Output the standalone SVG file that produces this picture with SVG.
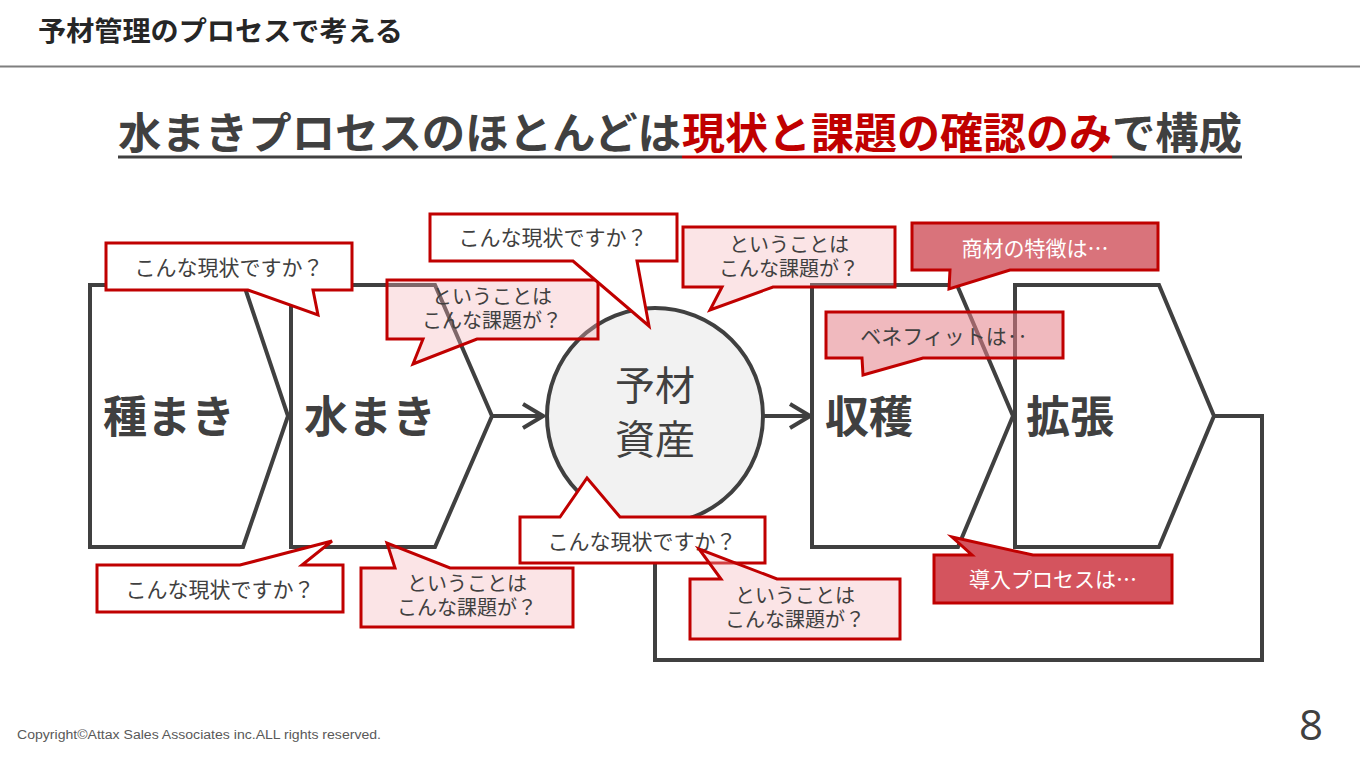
<svg xmlns="http://www.w3.org/2000/svg" width="1360" height="766" viewBox="0 0 1360 766">
<defs>
<style>
.jp{font-family:"Noto Sans CJK JP","Noto Sans",sans-serif}
.chev{fill:#fff;stroke:#404040;stroke-width:4;stroke-linejoin:miter}
.lbl{font-size:44px;font-weight:bold;fill:#404040}
.conn{fill:none;stroke:#404040;stroke-width:4}
.cw{fill:#fff;stroke:#c00000;stroke-width:3;stroke-linejoin:miter}
.cp{fill:#f4b2b8;fill-opacity:.35;stroke:#c00000;stroke-width:3;stroke-linejoin:miter}
.cm{fill:#e37f88;fill-opacity:.55;stroke:#c00000;stroke-width:3;stroke-linejoin:miter}
.ce{fill:#d9737b;stroke:#c00000;stroke-width:3;stroke-linejoin:miter}
.ck{fill:#d4545e;stroke:#c00000;stroke-width:3;stroke-linejoin:miter}
.ct{font-size:21px;fill:#404040;text-anchor:middle}
.ct2{font-size:20px;fill:#404040;text-anchor:middle}
.ctw{font-size:21px;fill:#fff;text-anchor:middle}
</style>
<marker id="arr" viewBox="0 0 24 28" refX="22" refY="14" markerWidth="24" markerHeight="28" markerUnits="userSpaceOnUse" orient="auto">
<path d="M2,2 L22,14 L2,26" fill="none" stroke="#404040" stroke-width="4"/>
</marker>
</defs>
<rect width="1360" height="766" fill="#fff"/>

<g id="header">
<text class="jp" x="38" y="41" font-size="27" font-weight="bold" fill="#262626" textLength="365" lengthAdjust="spacingAndGlyphs">予材管理のプロセスで考える</text>
<line x1="0" y1="66.5" x2="1360" y2="66.5" stroke="#7f7f7f" stroke-width="2"/>
</g>

<g id="headline">
<text class="jp" x="118" y="149" font-size="43" font-weight="bold" fill="#404040" textLength="563" lengthAdjust="spacingAndGlyphs">水まきプロセスのほとんどは</text>
<text class="jp" x="682" y="149" font-size="43" font-weight="bold" fill="#c00000" textLength="430" lengthAdjust="spacingAndGlyphs">現状と課題の確認のみ</text>
<text class="jp" x="1112" y="149" font-size="43" font-weight="bold" fill="#404040" textLength="130" lengthAdjust="spacingAndGlyphs">で構成</text>
<line x1="118" y1="157" x2="682" y2="157" stroke="#404040" stroke-width="3"/>
<line x1="682" y1="157" x2="1112" y2="157" stroke="#c00000" stroke-width="3"/>
<line x1="1112" y1="157" x2="1242" y2="157" stroke="#404040" stroke-width="3"/>
</g>

<g id="connectors">
<line class="conn" x1="492" y1="416" x2="543" y2="416" marker-end="url(#arr)"/>
<line class="conn" x1="764" y1="416" x2="810" y2="416" marker-end="url(#arr)"/>
<polyline class="conn" points="1214,416 1262,416 1262,660 655,660 655,524"/>
</g>

<g id="node-tanemaki">
<polygon class="chev" points="90,285 244,285 288,416 243,547 90,547"/>
<text class="jp lbl" x="103" y="433">種まき</text>
</g>
<g id="node-mizumaki">
<polygon class="chev" points="291,285 435,285 492,416 435,547 291,547"/>
<text class="jp lbl" x="304" y="433">水まき</text>
</g>
<g id="node-yozai">
<circle cx="655" cy="416" r="108" fill="#f2f2f2" stroke="#404040" stroke-width="4"/>
<text class="jp" font-size="40" fill="#404040" text-anchor="middle"><tspan x="655" y="400">予材</tspan><tspan x="655" y="454">資産</tspan></text>
</g>
<g id="node-shukaku">
<polygon class="chev" points="812,285 957,285 1013,416 958,547 812,547"/>
<text class="jp lbl" x="825" y="433">収穫</text>
</g>
<g id="node-kakucho">
<polygon class="chev" points="1015,285 1159,285 1214,416 1159,547 1015,547"/>
<text class="jp lbl" x="1026" y="433">拡張</text>
</g>

<g id="callout-a">
<polygon class="cw" points="106,243 352,243 352,290 313,290 318,315 248,290 106,290"/>
<text class="jp ct" x="229" y="275">こんな現状ですか？</text>
</g>
<g id="callout-c">
<polygon class="cp" points="387,280 598,280 598,339 477,339 413,364 423,339 387,339"/>
<text class="jp ct2"><tspan x="492" y="304">ということは</tspan><tspan x="492" y="328">こんな課題が？</tspan></text>
</g>
<g id="callout-b">
<polygon class="cw" points="430,214 677,214 677,261 637,261 649,326 573,261 430,261"/>
<text class="jp ct" x="553" y="245">こんな現状ですか？</text>
</g>
<g id="callout-d">
<polygon class="cp" points="683,227 895,227 895,287 773,287 710,310 722,287 683,287"/>
<text class="jp ct2"><tspan x="789" y="252">ということは</tspan><tspan x="789" y="276">こんな課題が？</tspan></text>
</g>
<g id="callout-e">
<polygon class="ce" points="912,223 1158,223 1158,270 1010,270 949,289 950,270 912,270"/>
<text class="jp ctw" x="1035" y="256">商材の特徴は…</text>
</g>
<g id="callout-f">
<polygon class="cm" points="826,312 1063,312 1063,358 923,358 863,375 862,358 826,358"/>
<text class="jp ct" x="944" y="344">ベネフィットは‥</text>
</g>
<g id="callout-g">
<polygon class="cw" points="97,565 240,565 332,541 302,565 343,565 343,612 97,612"/>
<text class="jp ct" x="220" y="597">こんな現状ですか？</text>
</g>
<g id="callout-h">
<polygon class="cp" points="361,568 395,568 387,543 450,568 573,568 573,627 361,627"/>
<text class="jp ct2"><tspan x="467" y="591">ということは</tspan><tspan x="467" y="615">こんな課題が？</tspan></text>
</g>
<g id="callout-i">
<polygon class="cw" points="520,517 560,517 587,478 620,517 765,517 765,563 520,563"/>
<text class="jp ct" x="642" y="549">こんな現状ですか？</text>
</g>
<g id="callout-j">
<polygon class="cp" points="690,579 721,579 699,549 777,579 900,579 900,639 690,639"/>
<text class="jp ct2"><tspan x="795" y="603">ということは</tspan><tspan x="795" y="627">こんな課題が？</tspan></text>
</g>
<g id="callout-k">
<polygon class="ck" points="934,555 972,555 952,537 1033,555 1172,555 1172,603 934,603"/>
<text class="jp ctw" x="1053" y="587">導入プロセスは…</text>
</g>

<g id="footer">
<text x="17" y="739" font-family="Liberation Sans, sans-serif" font-size="12.5" fill="#595959" textLength="364" lengthAdjust="spacingAndGlyphs">Copyright©Attax Sales Associates inc.ALL rights reserved.</text>
<text x="1311" y="740" font-family="Open Sans, Liberation Sans, sans-serif" font-size="42" fill="#404040" text-anchor="middle">8</text>
</g>
</svg>
